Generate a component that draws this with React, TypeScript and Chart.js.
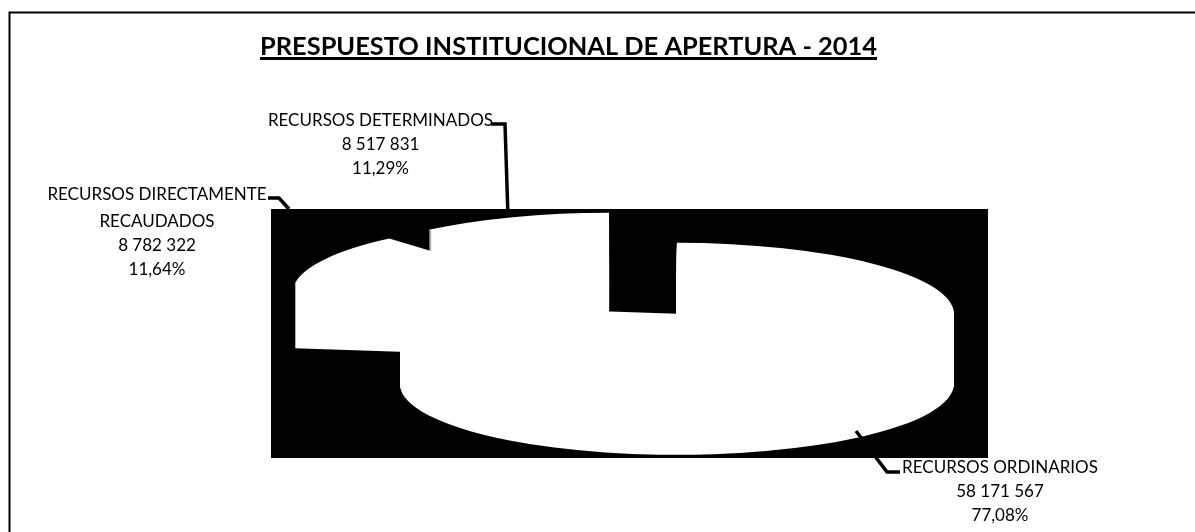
import React, { useEffect, useRef } from "react";
import { Chart, registerables } from "chart.js";

Chart.register(...registerables);

const categories = ["RECURSOS ORDINARIOS", "RECURSOS DIRECTAMENTE RECAUDADOS", "RECURSOS DETERMINADOS"];
const values = [58171567, 8782322, 8517831];
const valueLabels = ["58 171 567", "8 782 322", "8 517 831"];
const percentLabels = ["77,08%", "11,64%", "11,29%"];
const titleText = "PRESPUESTO INSTITUCIONAL DE APERTURA - 2014";

// Layout of the squashed, exploded 3D pie
const PIE = { cx: 634.7, cy: 301.5, rx: 277, ry: 71 };
const explode = [64, 74, 74];
const depth = [70, 65, 65];
const FONT = "Lato, sans-serif";

const piePlugin = {
  id: "pie3d",
  beforeDatasetsDraw(chart: any) {
    const ctx = chart.ctx;
    ctx.save();
    ctx.fillStyle = "#ffffff";
    ctx.fillRect(0, 0, 1195, 532);
    ctx.strokeStyle = "#000000";
    ctx.lineWidth = 2;
    ctx.beginPath();
    ctx.moveTo(9.5, 540);
    ctx.lineTo(9.5, 12.5);
    ctx.lineTo(1200, 12.5);
    ctx.stroke();
    ctx.fillStyle = "#000000";
    ctx.fillRect(271, 209, 717, 249);
    const arcs = chart.getDatasetMeta(0).data;
    arcs.forEach((arc: any, i: number) => {
      const mid = (arc.startAngle + arc.endAngle) / 2;
      const sx = PIE.rx / arc.outerRadius;
      const sy = PIE.ry / arc.outerRadius;
      const ox = PIE.cx + (Math.cos(mid) * explode[i] * PIE.rx) / 277;
      const oy = PIE.cy + (Math.sin(mid) * explode[i] * PIE.ry) / 277;
      for (let k = depth[i]; k >= 0; k--) {
        ctx.save();
        ctx.translate(ox, oy + k);
        ctx.scale(sx, sy);
        ctx.translate(-arc.x, -arc.y);
        arc.draw(ctx);
        ctx.restore();
      }
    });
    ctx.restore();
    return false;
  },
  afterDraw(chart: any) {
    const ctx = chart.ctx;
    ctx.save();
    const leaders = [
      [[856, 431], [887, 472], [900, 472]],
      [[289, 209], [279, 198], [268, 198]],
      [[508, 217], [505, 124], [491, 124]],
    ];
    ctx.strokeStyle = "#000000";
    ctx.lineWidth = 3.5;
    leaders.forEach((pts) => {
      ctx.beginPath();
      pts.forEach((p, i) => (i ? ctx.lineTo(p[0], p[1]) : ctx.moveTo(p[0], p[1])));
      ctx.stroke();
    });

    ctx.fillStyle = "#000000";
    ctx.textAlign = "center";
    ctx.textBaseline = "middle";
    ctx.font = `bold 25.4px ${FONT}`;
    ctx.fillText(titleText, 568.5, 46.5);
    const tw = ctx.measureText(titleText).width;
    ctx.fillRect(568.5 - tw / 2, 57, tw, 3);

    ctx.font = `17px ${FONT}`;
    const blocks = [
      { x: 1000, y: 468, lines: [categories[0], valueLabels[0], percentLabels[0]], gaps: [24, 24] },
      { x: 157, y: 194.5, lines: ["RECURSOS DIRECTAMENTE", "RECAUDADOS", valueLabels[1], percentLabels[1]], gaps: [27, 24, 24] },
      { x: 380.5, y: 121, lines: [categories[2], valueLabels[2], percentLabels[2]], gaps: [24, 24] },
    ];
    blocks.forEach((b) => {
      let y = b.y;
      b.lines.forEach((line, i) => {
        ctx.fillText(line, b.x, y);
        y += b.gaps[i] || 0;
      });
    });
    ctx.restore();
  },
};

export default function App() {
  const ref = useRef<HTMLCanvasElement>(null);
  useEffect(() => {
    document.body.style.margin = "0";
    document.body.style.overflow = "hidden";
    const chart = new Chart(ref.current!, {
      type: "pie",
      data: {
        labels: categories,
        datasets: [{ data: values, backgroundColor: "#ffffff", borderWidth: 0, hoverOffset: 0 }],
      },
      options: {
        animation: false,
        responsive: false,
        layout: { padding: 0 },
        plugins: { legend: { display: false }, title: { display: false }, tooltip: { enabled: false } },
      },
      plugins: [piePlugin],
    } as any);
    return () => chart.destroy();
  }, []);
  return <canvas ref={ref} width={1195} height={532} style={{ display: "block", width: 1195, height: 532 }} />;
}
